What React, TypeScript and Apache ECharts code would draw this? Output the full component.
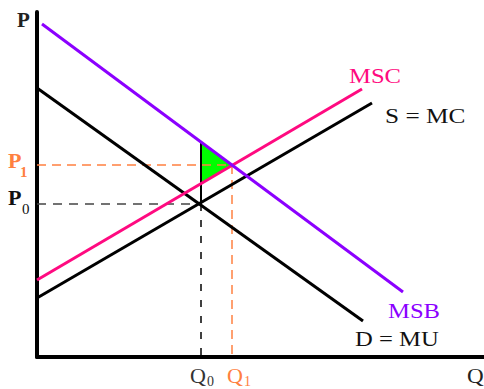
import React, { useEffect, useRef } from "react";
import * as echarts from "echarts";

// Axis ranges (data units)
const xMax = 447;
const yMax = 345;

// Curves: endpoints [x0, x1], [y0, y1]
const msbX = [5, 366];
const msbY = [333, 65];
const demandX = [0, 326];
const demandY = [269, 36];
const mscX = [0, 325];
const mscY = [77, 268];
const supplyX = [0, 335];
const supplyY = [59, 254];

// Equilibria
const q0 = 164;
const p0 = 153;
const q1 = 195;
const p1 = 192;

// Deadweight-loss triangle vertices
const triX = [164, 195, 164];
const triY = [215, 192, 173];

// Labels
const axisLabels = ["P", "Q"];
const curveLabels = ["MSC", "S = MC", "MSB", "D = MU"];
const priceLabels = ["P", "P"];
const priceSubs = ["1", "0"];
const qtyLabels = ["Q", "Q"];
const qtySubs = ["0", "1"];

const SERIF = "'Liberation Serif', 'Times New Roman', serif";
const PURPLE = "#8B00FF";
const PINK = "#FF0A80";
const ORANGE = "#FF8040";

function pts(xs: number[], ys: number[]) {
  return xs.map((x, i) => [x, ys[i]]);
}

function lineSeries(data: number[][], color: string, width: number, type: any = "solid", z = 3) {
  return {
    type: "line",
    data,
    symbol: "none",
    silent: true,
    z,
    lineStyle: { color, width, type },
  };
}

function txt(text: string, x: number, y: number, size: number, fill: string, bold = false, sx = 1.1) {
  return {
    type: "text",
    x,
    y,
    scaleX: sx,
    style: {
      text,
      fill,
      font: `${bold ? "bold " : ""}${size}px ${SERIF}`,
      textAlign: "left",
      textVerticalAlign: "middle",
    },
  };
}

export default function App() {
  const ref = useRef<HTMLDivElement>(null);
  useEffect(() => {
    if (!ref.current) return;
    const chart = echarts.init(ref.current, undefined, { renderer: "svg" });
    const axisCommon = {
      type: "value",
      min: 0,
      axisLine: { show: true, lineStyle: { color: "#000", width: 4 } },
      axisTick: { show: false },
      axisLabel: { show: false },
      splitLine: { show: false },
    };
    chart.setOption({
      animation: false,
      backgroundColor: "#fff",
      grid: { left: 37, top: 12, width: 447, height: 345 },
      xAxis: { ...axisCommon, max: xMax },
      yAxis: { ...axisCommon, max: yMax },
      series: [
        {
          type: "custom",
          silent: true,
          z: 1,
          renderItem: (params: any, api: any) => {
            if (params.dataIndex !== 0) return null;
            const points = triX.map((x, i) => api.coord([x, triY[i]]));
            return {
              type: "polygon",
              shape: { points },
              style: { fill: "#00FF00", stroke: "none" },
            };
          },
          data: [[triX[0], triY[0]]],
        },
        lineSeries(pts([0, q1], [p1, p1]), ORANGE, 1.5, [9, 6], 2),
        lineSeries(pts([q1, q1], [p1, 0]), ORANGE, 1.5, [9, 6], 2),
        lineSeries(pts([0, q0], [p0, p0]), "#444", 1.5, [9, 7], 2),
        lineSeries(pts([q0, q0], [p0, 0]), "#000", 1.5, [7, 9], 2),
        lineSeries(pts([q0, q0], [triY[0], p0]), "#000", 2, "solid", 2),
        lineSeries(pts(demandX, demandY), "#000", 3),
        lineSeries(pts(supplyX, supplyY), "#000", 3),
        lineSeries(pts(mscX, mscY), PINK, 3),
        lineSeries(pts(msbX, msbY), PURPLE, 3),
      ],
      graphic: [
        txt(axisLabels[0], 17, 20, 20, "#222", true, 1.05),
        txt(axisLabels[1], 467, 376, 22, "#222", false, 1.05),
        txt(curveLabels[0], 349, 75, 22, PINK, false, 1.12),
        txt(curveLabels[1], 385, 116, 22, "#111", false, 1.15),
        txt(curveLabels[2], 388, 310, 22, PURPLE, false, 1.12),
        txt(curveLabels[3], 355, 338, 22, "#111", false, 1.12),
        txt(priceLabels[0], 8, 161, 21, ORANGE, true, 1.05),
        txt(priceSubs[0], 20, 172, 15, ORANGE, true, 1),
        txt(priceLabels[1], 8, 198, 21, "#111", true, 1.05),
        txt(priceSubs[1], 22, 209, 15, "#111", false, 1),
        txt(qtyLabels[0], 190, 376, 21, "#333", false, 1.05),
        txt(qtySubs[0], 207, 381, 14, "#333", false, 1),
        txt(qtyLabels[1], 227, 376, 21, ORANGE, false, 1.05),
        txt(qtySubs[1], 244, 381, 14, ORANGE, false, 1),
      ],
    });
    return () => chart.dispose();
  }, []);
  return <div ref={ref} style={{ width: 484, height: 389, position: "absolute", left: 0, top: 0 }} />;
}
